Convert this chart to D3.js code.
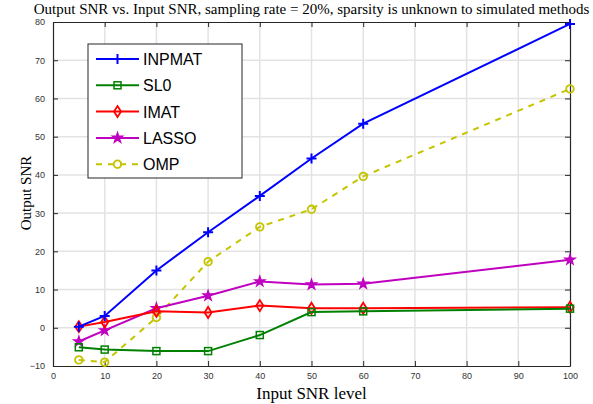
<!DOCTYPE html>
<html>
<head>
<meta charset="utf-8">
<script src="https://cdn.jsdelivr.net/npm/d3@7"></script>
<style>
  body { margin: 0; background: #fff; }
  svg { display: block; }
</style>
</head>
<body>
<svg id="chart" width="593" height="404"></svg>
<script>
// input SNR levels (x values)
const snrLevels = [5, 10, 20, 30, 40, 50, 60, 100];

// output SNR per method
const inpmat = [0.3, 3.1, 15.0, 25.0, 34.5, 44.3, 53.4, 79.5];
const sl0    = [-5.1, -5.7, -6.1, -6.1, -1.9, 4.1, 4.3, 5.0];
const imat   = [0.3, 1.5, 4.3, 4.0, 5.8, 5.1, 5.1, 5.4];
const lasso  = [-3.6, -0.7, 5.1, 8.4, 12.1, 11.3, 11.5, 17.8];
const omp    = [-8.4, -9.0, 2.7, 17.3, 26.4, 31.0, 39.6, 62.5];

const methodNames = ["INPMAT", "SL0", "IMAT", "LASSO", "OMP"];

const xTicks = [0, 10, 20, 30, 40, 50, 60, 70, 80, 90, 100];
const yTicks = [-10, 0, 10, 20, 30, 40, 50, 60, 70, 80];

const titleText = "Output SNR vs. Input SNR, sampling rate = 20%, sparsity is unknown to simulated methods";
const xLabelText = "Input SNR level";
const yLabelText = "Output SNR";

// styling for each series
const series = [
    { name: methodNames[0], values: inpmat, color: "#0000ff", marker: "plus", dash: null },
    { name: methodNames[1], values: sl0, color: "#008000", marker: "square", dash: null },
    { name: methodNames[2], values: imat, color: "#ff0000", marker: "diamond", dash: null },
    { name: methodNames[3], values: lasso, color: "#c000c0", marker: "star", dash: null },
    { name: methodNames[4], values: omp, color: "#c4c400", marker: "circle", dash: "6,6" }
];

const svg = d3.select("#chart");
const margin = { left: 53, right: 23, top: 22, bottom: 38 };
const width = 593 - margin.left - margin.right;
const height = 404 - margin.top - margin.bottom;

const x = d3.scaleLinear().domain([0, 100]).range([0, width]);
const y = d3.scaleLinear().domain([-10, 80]).range([height, 0]);

const g = svg.append("g")
    .attr("transform", `translate(${margin.left},${margin.top})`);

// grid
g.append("g").selectAll("line")
    .data(xTicks.slice(1, -1))
    .join("line")
    .attr("x1", d => x(d)).attr("x2", d => x(d))
    .attr("y1", 0).attr("y2", height)
    .attr("stroke", "#e3e3e3").attr("stroke-width", 1.5);

g.append("g").selectAll("line")
    .data(yTicks.slice(1, -1))
    .join("line")
    .attr("x1", 0).attr("x2", width)
    .attr("y1", d => y(d)).attr("y2", d => y(d))
    .attr("stroke", "#e3e3e3").attr("stroke-width", 1.5);

// axes (ticks pointing inward, box on all sides)
function styleAxis(sel) {
    sel.select(".domain").attr("stroke", "#262626").attr("stroke-width", 1.2);
    sel.selectAll(".tick line").attr("stroke", "#262626").attr("stroke-width", 1);
    sel.selectAll("text")
        .attr("fill", "#333")
        .style("font-family", "'Liberation Sans', Arial, sans-serif")
        .style("font-size", "9px");
}

g.append("g")
    .attr("transform", `translate(0,${height})`)
    .call(d3.axisBottom(x).tickValues(xTicks).tickSize(-5).tickPadding(7).tickSizeOuter(0))
    .call(styleAxis);

g.append("g")
    .call(d3.axisLeft(y).tickValues(yTicks).tickSize(-5).tickPadding(8).tickSizeOuter(0))
    .call(styleAxis);

g.append("g")
    .call(d3.axisTop(x).tickValues(xTicks).tickSize(-5).tickFormat("").tickSizeOuter(0))
    .call(styleAxis);

g.append("g")
    .attr("transform", `translate(${width},0)`)
    .call(d3.axisRight(y).tickValues(yTicks).tickSize(-5).tickFormat("").tickSizeOuter(0))
    .call(styleAxis);

// marker drawing
function drawMarker(sel, type, color) {
    if (type === "plus") {
        sel.append("path")
            .attr("d", "M-5,0H5M0,-5V5")
            .attr("stroke", color).attr("stroke-width", 2).attr("fill", "none");
    } else if (type === "square") {
        sel.append("rect")
            .attr("x", -3.5).attr("y", -3.5).attr("width", 7).attr("height", 7)
            .attr("stroke", color).attr("stroke-width", 1.5).attr("fill", "none");
    } else if (type === "diamond") {
        sel.append("path")
            .attr("d", "M0,-5.5L3.5,0L0,5.5L-3.5,0Z")
            .attr("stroke", color).attr("stroke-width", 1.8).attr("fill", "none");
    } else if (type === "star") {
        sel.append("path")
            .attr("d", d3.symbol().type(d3.symbolStar).size(32)())
            .attr("stroke", color).attr("stroke-width", 1.3).attr("fill", color);
    } else if (type === "circle") {
        sel.append("circle")
            .attr("r", 3.8)
            .attr("stroke", color).attr("stroke-width", 1.8).attr("fill", "none");
    }
}

const line = d3.line()
    .x((d, i) => x(snrLevels[i]))
    .y(d => y(d));

// draw series in reverse so INPMAT sits on top
series.slice().reverse().forEach(s => {
    g.append("path")
        .datum(s.values)
        .attr("d", line)
        .attr("fill", "none")
        .attr("stroke", s.color)
        .attr("stroke-width", 2)
        .attr("stroke-dasharray", s.dash);

    g.append("g").selectAll("g")
        .data(s.values)
        .join("g")
        .attr("transform", (d, i) => `translate(${x(snrLevels[i])},${y(d)})`)
        .each(function () { drawMarker(d3.select(this), s.marker, s.color); });
});

// legend
const legend = svg.append("g").attr("transform", "translate(88,44)");
legend.append("rect")
    .attr("width", 154).attr("height", 134)
    .attr("fill", "#fff").attr("stroke", "#262626").attr("stroke-width", 1);

series.forEach((s, i) => {
    const row = legend.append("g").attr("transform", `translate(0,${15 + i * 26.3})`);
    row.append("line")
        .attr("x1", 8).attr("x2", 51)
        .attr("stroke", s.color).attr("stroke-width", 2)
        .attr("stroke-dasharray", s.dash ? "6,6" : null);
    const m = row.append("g").attr("transform", "translate(29.5,0)");
    drawMarker(m, s.marker, s.color);
    row.append("text")
        .attr("x", 55).attr("y", 6)
        .style("font-family", "'Liberation Sans', Arial, sans-serif")
        .style("font-size", "16px")
        .attr("fill", "#000")
        .text(s.name);
});

// title and labels
svg.append("text")
    .attr("x", margin.left + width / 2).attr("y", 14)
    .attr("text-anchor", "middle")
    .style("font-family", "'Liberation Serif', 'Times New Roman', serif")
    .style("font-size", "15px")
    .text(titleText);

svg.append("text")
    .attr("x", margin.left + width / 2).attr("y", 399)
    .attr("text-anchor", "middle")
    .style("font-family", "'Liberation Serif', 'Times New Roman', serif")
    .style("font-size", "17px")
    .text(xLabelText);

svg.append("text")
    .attr("transform", `translate(31,${margin.top + height / 2 - 1}) rotate(-90)`)
    .attr("text-anchor", "middle")
    .style("font-family", "'Liberation Serif', 'Times New Roman', serif")
    .style("font-size", "15px")
    .text(yLabelText);
</script>
</body>
</html>
